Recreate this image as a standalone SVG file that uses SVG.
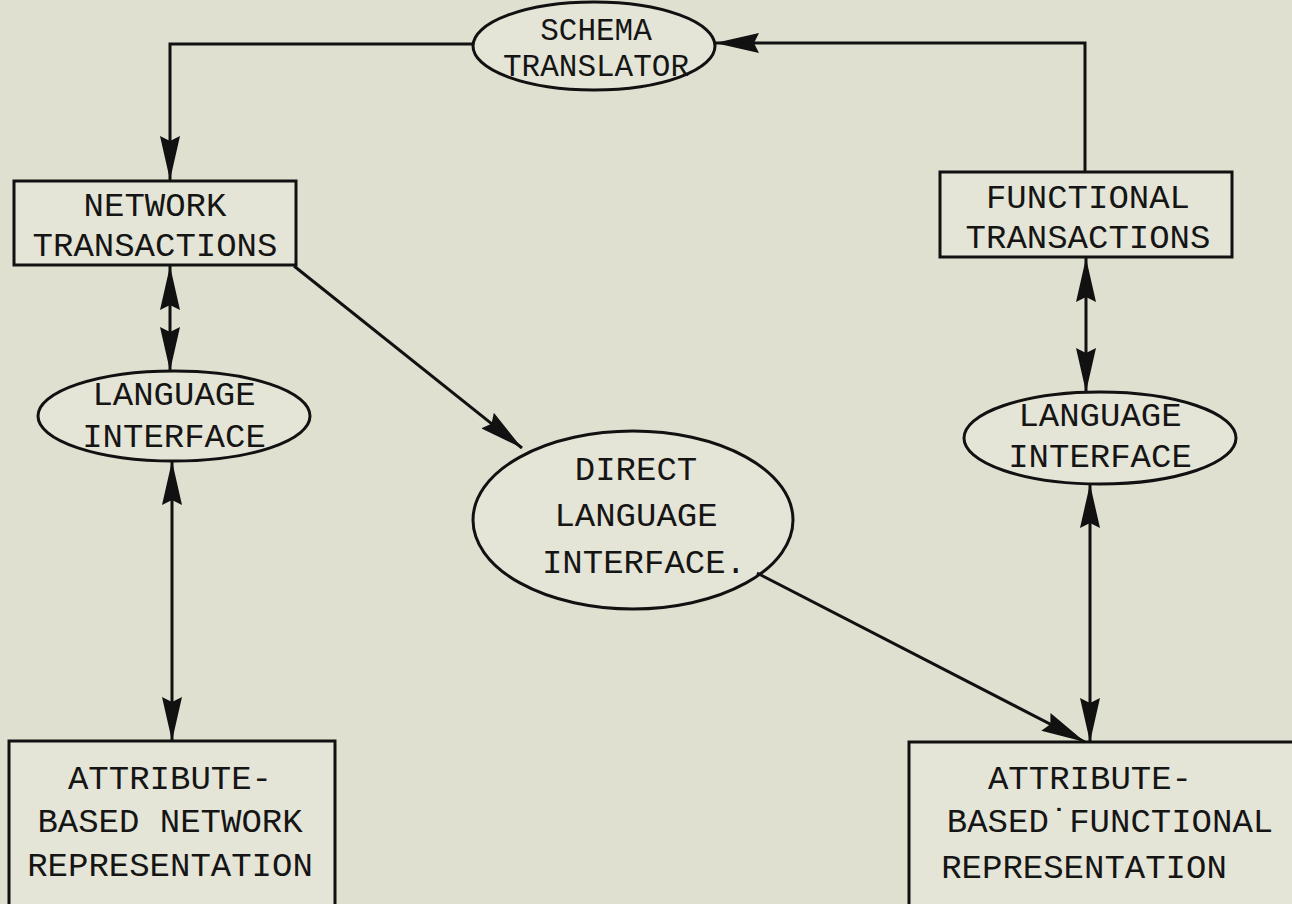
<svg xmlns="http://www.w3.org/2000/svg" width="1292" height="904" viewBox="0 0 1292 904">
<style>
.bg{fill:#dfe0d0}
.node{fill:#e4e5d7;stroke:#111;stroke-width:3}
.t{font-family:"Liberation Mono","Courier New",monospace;font-size:34px;fill:#151515;text-anchor:middle}
.s{font-size:31px}
.c{fill:none;stroke:#111;stroke-width:3}
</style>
<defs>
<marker id="a" viewBox="0 0 44 20" refX="44" refY="10" markerWidth="44" markerHeight="20" markerUnits="userSpaceOnUse" orient="auto-start-reverse">
<path d="M0,0 L44,10 L0,20 L5,10 Z" fill="#111"/>
</marker>
</defs>
<rect class="bg" x="0" y="0" width="1292" height="904"/>
<g id="schema">
<ellipse class="node" cx="594" cy="46" rx="121" ry="44"/>
<text class="t s" x="596" y="40">SCHEMA</text>
<text class="t s" x="596" y="76">TRANSLATOR</text>
</g>
<g id="network-transactions">
<rect class="node" x="14" y="181" width="282" height="84"/>
<text class="t" x="155" y="216">NETWORK</text>
<text class="t" x="155" y="256">TRANSACTIONS</text>
</g>
<g id="functional-transactions">
<rect class="node" x="940" y="172" width="292" height="85"/>
<text class="t" x="1088" y="208">FUNCTIONAL</text>
<text class="t" x="1088" y="248">TRANSACTIONS</text>
</g>
<g id="language-interface-left">
<ellipse class="node" cx="174" cy="416" rx="136" ry="45"/>
<text class="t" x="174" y="405">LANGUAGE</text>
<text class="t" x="174" y="447">INTERFACE</text>
</g>
<g id="direct-language-interface">
<ellipse class="node" cx="633" cy="520" rx="160" ry="89"/>
<text class="t" x="636" y="480">DIRECT</text>
<text class="t" x="636" y="526">LANGUAGE</text>
<text class="t" x="644" y="573">INTERFACE.</text>
</g>
<g id="language-interface-right">
<ellipse class="node" cx="1100" cy="438" rx="136" ry="46"/>
<text class="t" x="1100" y="426">LANGUAGE</text>
<text class="t" x="1100" y="467">INTERFACE</text>
</g>
<g id="attribute-network">
<rect class="node" x="9" y="741" width="326" height="170"/>
<text class="t" x="170" y="789">ATTRIBUTE-</text>
<text class="t" x="170" y="832">BASED NETWORK</text>
<text class="t" x="170" y="876">REPRESENTATION</text>
</g>
<g id="attribute-functional">
<rect class="node" x="909" y="742" width="392" height="170"/>
<text class="t" x="1090" y="789">ATTRIBUTE-</text>
<text class="t" x="1110" y="832">BASED˙FUNCTIONAL</text>
<text class="t" x="1084" y="878">REPRESENTATION</text>
</g>
<g id="connectors">
<path class="c" d="M473,44 H170 V180" marker-end="url(#a)"/>
<path class="c" d="M1085,171 V43 H715" marker-end="url(#a)"/>
<path class="c" d="M170,266 V371" marker-start="url(#a)" marker-end="url(#a)"/>
<path class="c" d="M172,461 V741" marker-start="url(#a)" marker-end="url(#a)"/>
<path class="c" d="M294,266 L522,448" marker-end="url(#a)"/>
<path class="c" d="M757,573 L1085,742" marker-end="url(#a)"/>
<path class="c" d="M1086,258 V392" marker-start="url(#a)" marker-end="url(#a)"/>
<path class="c" d="M1090,484 V742" marker-start="url(#a)" marker-end="url(#a)"/>
</g>
</svg>
